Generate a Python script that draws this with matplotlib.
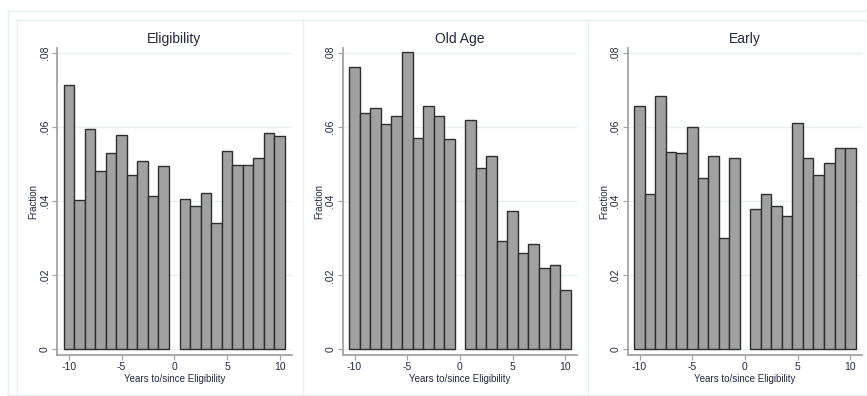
import matplotlib
matplotlib.use("Agg")
import matplotlib.pyplot as plt
from matplotlib.lines import Line2D

plt.rcParams['font.family'] = ['Liberation Sans', 'DejaVu Sans']

# Years relative to eligibility (year 0 itself has no observations)
years = [-10, -9, -8, -7, -6, -5, -4, -3, -2, -1,
         1, 2, 3, 4, 5, 6, 7, 8, 9, 10]

eligibility = [0.0714, 0.0403, 0.0596, 0.0483, 0.0529, 0.0578, 0.0472, 0.0509, 0.0415, 0.0496,
               0.0405, 0.0388, 0.0421, 0.0340, 0.0535, 0.0499, 0.0499, 0.0518, 0.0584, 0.0576]

old_age = [0.0762, 0.0638, 0.0651, 0.0610, 0.0630, 0.0804, 0.0571, 0.0658, 0.0630, 0.0567,
           0.0620, 0.0490, 0.0521, 0.0292, 0.0373, 0.0261, 0.0285, 0.0220, 0.0229, 0.0159]

early = [0.0657, 0.0420, 0.0685, 0.0534, 0.0530, 0.0601, 0.0462, 0.0521, 0.0301, 0.0517,
         0.0379, 0.0420, 0.0386, 0.0359, 0.0611, 0.0517, 0.0470, 0.0503, 0.0543, 0.0543]

titles = ["Eligibility", "Old Age", "Early"]
series = [eligibility, old_age, early]

y_ticks = [0, 0.02, 0.04, 0.06, 0.08]
y_tick_labels = ["0", ".02", ".04", ".06", ".08"]
x_ticks = [-10, -5, 0, 5, 10]
x_tick_labels = ["-10", "-5", "0", "5", "10"]

W, H = 867, 396
fig = plt.figure(figsize=(W / 100, H / 100), dpi=100)
fig.patch.set_facecolor("white")

text_col = "#25293f"
axis_col = "#a4a4a4"
grid_col = "#e7f0f1"
frame_col = "#e6eeee"

# faint graph-region frames
def fline(x0, y0, x1, y1):
    fig.add_artist(Line2D([x0 / W, x1 / W], [1 - y0 / H, 1 - y1 / H],
                          color=frame_col, lw=1.0, transform=fig.transFigure))

fline(8, 11, W, 11)
fline(8, 11, 8, 395)
fline(8, 395, W, 395)
fline(17, 20, W, 20)
for xv in (17, 302.5, 587.5):
    fline(xv, 20, xv, 395)

lefts = [57, 342.7, 627.7]
ax_w = 234.5
ax_top, ax_bot = 48, 355

for left, title, vals in zip(lefts, titles, series):
    ax = fig.add_axes([left / W, (H - ax_bot) / H, ax_w / W, (ax_bot - ax_top) / H])
    ax.bar(years, vals, width=1.0, color="#a1a1a1", edgecolor="#2e2e2e",
           linewidth=1.0, zorder=3)
    ax.set_xlim(-11.12, 11.12)
    ax.set_ylim(-0.00154, 0.0814)
    ax.set_axisbelow(True)
    ax.yaxis.grid(True, color=grid_col, lw=1.0)
    ax.xaxis.grid(False)

    for s in ("top", "right"):
        ax.spines[s].set_visible(False)
    for s in ("left", "bottom"):
        ax.spines[s].set_color(axis_col)
        ax.spines[s].set_linewidth(1.3)

    ax.set_yticks(y_ticks)
    ax.set_yticklabels(y_tick_labels, rotation=90, va="center")
    ax.set_xticks(x_ticks)
    ax.set_xticklabels(x_tick_labels)
    ax.tick_params(axis="both", colors=axis_col, labelcolor=text_col,
                   labelsize=7.5, length=3.3, width=0.9, pad=2)

    ax.text(0.5, 1.029, title, transform=ax.transAxes, ha="center", va="center",
            fontsize=10, color=text_col)
    ax.text(-0.102, 0.5, "Fraction", transform=ax.transAxes, rotation=90,
            ha="center", va="center", fontsize=7, color=text_col)
    ax.text(0.5, -0.078, "Years to/since Eligibility", transform=ax.transAxes,
            ha="center", va="center", fontsize=7, color=text_col)

fig.savefig("out.png", dpi=100, facecolor="white")
